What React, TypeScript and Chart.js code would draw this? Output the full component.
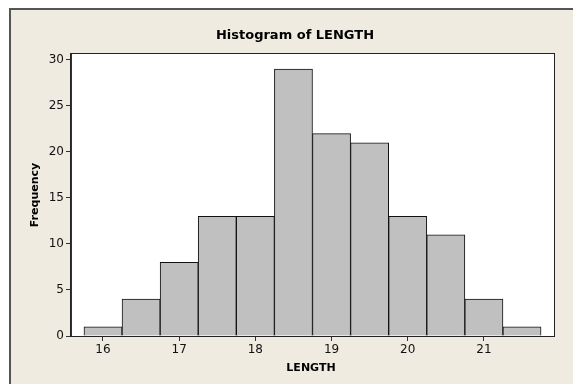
import React, { useEffect, useRef } from "react";
import { Chart, registerables } from "chart.js";

Chart.register(...registerables);

const binCenters = [16, 16.5, 17, 17.5, 18, 18.5, 19, 19.5, 20, 20.5, 21, 21.5];
const frequencies = [1, 4, 8, 13, 13, 29, 22, 21, 13, 11, 4, 1];
const xTicks = [16, 17, 18, 19, 20, 21];
const yTicks = [0, 5, 10, 15, 20, 25, 30];
const titleText = "Histogram of LENGTH";
const xLabel = "LENGTH";
const yLabel = "Frequency";

const FONT = "'DejaVu Sans', Verdana, sans-serif";

const framePlugin = {
  id: "frame",
  beforeDraw(chart: any) {
    const { ctx, chartArea, width, height } = chart;
    ctx.save();
    ctx.fillStyle = "#ffffff";
    ctx.fillRect(0, 0, width, height);
    ctx.fillStyle = "#EFEBE1";
    ctx.fillRect(10, 9, width - 10, height - 9);
    ctx.strokeStyle = "#555555";
    ctx.lineWidth = 2;
    ctx.beginPath();
    ctx.moveTo(10, height);
    ctx.lineTo(10, 9);
    ctx.lineTo(width, 9);
    ctx.stroke();
    ctx.fillStyle = "#ffffff";
    ctx.fillRect(chartArea.left, chartArea.top, chartArea.right - chartArea.left, chartArea.bottom - chartArea.top);
    ctx.restore();
  },
  afterDraw(chart: any) {
    const { ctx, chartArea } = chart;
    ctx.save();
    ctx.strokeStyle = "#222222";
    ctx.lineWidth = 1;
    ctx.strokeRect(chartArea.left - 0.5, chartArea.top - 0.5, chartArea.right - chartArea.left + 1, chartArea.bottom - chartArea.top + 1);
    ctx.fillStyle = "#000000";
    ctx.textAlign = "center";
    ctx.textBaseline = "middle";
    ctx.font = `bold 13px ${FONT}`;
    ctx.fillText(titleText, 295, 36);
    ctx.font = `bold 11px ${FONT}`;
    ctx.fillText(xLabel, 311, 368);
    ctx.translate(35, 195);
    ctx.rotate(-Math.PI / 2);
    ctx.fillText(yLabel, 0, 0);
    ctx.restore();
  },
};

export default function App() {
  const ref = useRef<HTMLCanvasElement>(null);
  useEffect(() => {
    const chart = new Chart(ref.current!, {
      type: "bar",
      data: {
        datasets: [
          {
            data: binCenters.map((x, i) => ({ x, y: frequencies[i] })),
            backgroundColor: "#C0C0C0",
            borderColor: "#111111",
            borderWidth: 1,
            barPercentage: 1,
            categoryPercentage: 1,
          },
        ],
      },
      options: {
        animation: false,
        responsive: false,
        layout: { padding: { left: 0, top: 54, right: 19, bottom: 0 } },
        plugins: { legend: { display: false }, title: { display: false }, tooltip: { enabled: false } },
        scales: {
          x: {
            type: "linear",
            offset: false,
            min: 15.58,
            max: 21.92,
            afterBuildTicks: (s: any) => { s.ticks = xTicks.map((v) => ({ value: v })); },
            afterFit: (s: any) => { s.height = 48; },
            grid: { offset: false, drawOnChartArea: false, drawTicks: true, tickLength: 5, tickColor: "#333333" },
            border: { display: true, color: "#333333" },
            ticks: { color: "#111111", font: { family: FONT, size: 12 }, padding: 2, maxRotation: 0 },
          },
          y: {
            min: 0,
            max: 30.65,
            afterBuildTicks: (s: any) => { s.ticks = yTicks.map((v) => ({ value: v })); },
            afterFit: (s: any) => { s.width = 71; },
            grid: { drawOnChartArea: false, drawTicks: true, tickLength: 5, tickColor: "#333333" },
            border: { display: true, color: "#333333" },
            ticks: { color: "#111111", font: { family: FONT, size: 12 }, padding: 2 },
          },
        },
      },
      plugins: [framePlugin],
    } as any);
    return () => chart.destroy();
  }, []);
  return (
    <div style={{ position: "absolute", left: 0, top: 0, width: 573, height: 384 }}>
      <canvas ref={ref} width={573} height={384} style={{ display: "block" }} />
    </div>
  );
}
